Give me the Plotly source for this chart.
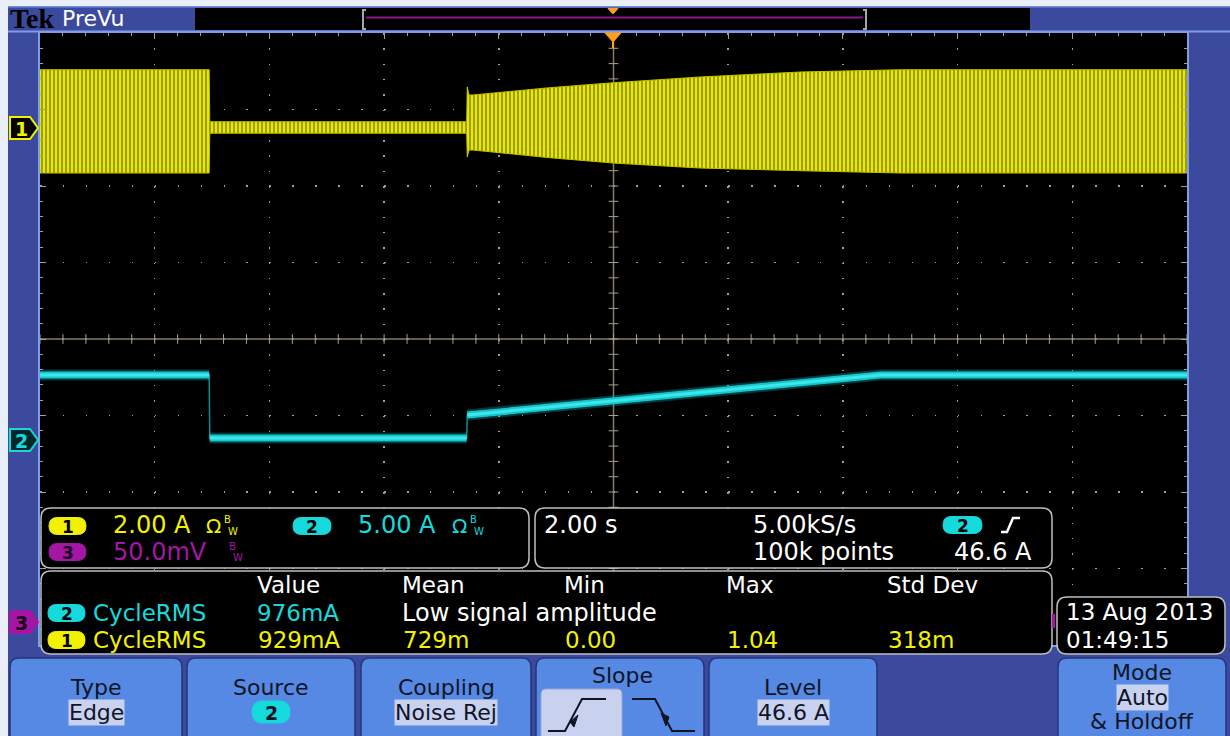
import numpy as np
import plotly.graph_objects as go

W, H = 1230, 736
PL, PR, PT, PB = 40, 1187, 33, 645   # graticule (plot area) in pixels

# ------------------------------------------------------------------ data
time_per_div_s = 2.0
ch1_scale_A = 2.0          # A/div
ch1_offset_div = 2.76      # ground marker position (div)
ch2_scale_A = 5.0
ch2_offset_div = -1.32

# channel 1: envelope of the noisy current band (A) vs time (s)
ch1_time = [-10.0, -7.05, -7.04, -2.56, -2.55, -2.52, -2.45, -1.11, 0.0, 1.51, 3.25, 5.0, 10.0]
ch1_upper_A = [1.52, 1.52, 0.16, 0.16, 1.07, 0.86, 0.86, 1.05, 1.18, 1.33, 1.46, 1.52, 1.52]
ch1_lower_A = [-1.18, -1.18, -0.14, -0.14, -0.76, -0.58, -0.58, -0.78, -0.92, -1.05, -1.12, -1.18, -1.18]

# channel 2: level (A) vs time (s)
ch2_time = [-10.0, -7.05, -7.04, -2.56, -2.55, 0.0, 4.65, 10.0]
ch2_level_A = [4.25, 4.25, 0.13, 0.13, 1.63, 2.55, 4.25, 4.25]

ch_scale_labels = ["2.00 A", "5.00 A", "50.0mV"]
horiz_labels = ["2.00 s", "5.00kS/s", "100k points", "46.6 A"]
meas_headers = ["Value", "Mean", "Min", "Max", "Std Dev"]
meas_ch2 = ["CycleRMS", "976mA", "Low signal amplitude"]
meas_ch1 = ["CycleRMS", "929mA", "729m", "0.00", "1.04", "318m"]
date_labels = ["13 Aug 2013", "01:49:15"]
button_titles = ["Type", "Source", "Coupling", "Slope", "Level", "Mode"]
button_values = ["Edge", "2", "Noise Rej", "", "46.6 A", "Auto"]

# ------------------------------------------------------------------ colours
FRAME = "#3b4a9c"
LIGHT = "#e9eef8"
BTN = "#5589e3"
BTN_LINE = "#27357a"
HILITE = "#c8d1ee"
YEL = "#f2f200"
CYAN = "#16d9dc"
MAG = "#a516a5"
GRID = "#a89f86"
CENTER = "#857c66"
BOXLINE = "#bfbfbf"
FONT = "DejaVu Sans"

def P(x, y):
    return (x - PL) / (PR - PL), (PB - y) / (PB - PT)

def pt(x, y):
    a, b = P(x, y)
    return f"{a:.5f},{b:.5f}"

def rrect_path(x0, y0, x1, y1, r):
    return ("M" + pt(x0 + r, y0) + " L" + pt(x1 - r, y0) + " Q" + pt(x1, y0) + " " + pt(x1, y0 + r)
            + " L" + pt(x1, y1 - r) + " Q" + pt(x1, y1) + " " + pt(x1 - r, y1)
            + " L" + pt(x0 + r, y1) + " Q" + pt(x0, y1) + " " + pt(x0, y1 - r)
            + " L" + pt(x0, y0 + r) + " Q" + pt(x0, y0) + " " + pt(x0 + r, y0) + " Z")

def poly_path(points, close=True):
    s = "M" + " L".join(pt(x, y) for x, y in points)
    return s + (" Z" if close else "")

shapes = []
annotations = []

def rect(x0, y0, x1, y1, fill, line=None, lw=0):
    a0, b0 = P(x0, y0)
    a1, b1 = P(x1, y1)
    shapes.append(dict(type="rect", xref="paper", yref="paper", x0=a0, y0=b0, x1=a1, y1=b1,
                       fillcolor=fill, line=dict(color=line or fill, width=lw), layer="above"))

def rrect(x0, y0, x1, y1, r, fill, line=None, lw=1.5):
    shapes.append(dict(type="path", xref="paper", yref="paper", path=rrect_path(x0, y0, x1, y1, r),
                       fillcolor=fill, line=dict(color=line or fill, width=lw), layer="above"))

def poly(points, fill=None, line=None, lw=2, close=True):
    shapes.append(dict(type="path", xref="paper", yref="paper", path=poly_path(points, close),
                       fillcolor=fill if fill else "rgba(0,0,0,0)",
                       line=dict(color=line or "rgba(0,0,0,0)", width=lw), layer="above"))

def txt(x, y, s, color, size=23, xanchor="left", bg=None, family=FONT):
    a, b = P(x, y)
    d = dict(x=a, y=b, xref="paper", yref="paper", text=s, showarrow=False, xanchor=xanchor,
             yanchor="middle", font=dict(family=family, size=size, color=color), borderpad=0)
    if bg:
        d["bgcolor"] = bg
    annotations.append(d)

# ------------------------------------------------------------------ frame / header
rect(0, 0, W, 6, LIGHT)
rect(0, 0, 8, H, LIGHT)
rect(8, 6, W, 7.5, "#6f8ee0")
rect(8, 30.5, W, 32.5, "#7f9de6")
rect(195, 8, 1030, 30, "#000000")
poly([(366, 10), (363, 10), (363, 29), (366, 29)], line="#a6a6a6", lw=2, close=False)
poly([(863, 10), (866, 10), (866, 29), (863, 29)], line="#a6a6a6", lw=2, close=False)
poly([(366, 17.5), (863, 17.5)], line="#8d168d", lw=2, close=False)
poly([(608, 8.5), (618, 8.5), (613, 14)], fill="#ff9f1c", line="#ff9f1c", lw=1)
txt(9, 18, "<b>Tek</b>", "#000000", size=28, family="Liberation Serif")
txt(61, 18, "PreVu", "#ffffff", size=22)

# trigger position marker
poly([(605, 33), (621, 33), (613, 42)], fill="#ff9f1c", line="#ff9f1c", lw=1)
poly([(613, 42), (613, 48)], line="#ff9f1c", lw=2, close=False)

# channel ground markers on the left frame
def marker(cy, border, fill, tcolor, label):
    poly([(10, cy - 11), (30, cy - 11), (38, cy), (30, cy + 11), (10, cy + 11)], fill=fill, line=border, lw=2)
    txt(21, cy + 1, "<b>" + label + "</b>", tcolor, size=19, xanchor="center")

marker(128, YEL, "#050505", YEL, "1")
marker(440, CYAN, "#03262b", CYAN, "2")
marker(622, MAG, MAG, "#1a001a", "3")

# ------------------------------------------------------------------ readout boxes
rrect(41, 508, 529, 568, 10, "#000000", BOXLINE, 1.5)
rrect(535, 508, 1052, 568, 10, "#000000", BOXLINE, 1.5)
rrect(41, 571, 1052, 654, 10, "#000000", BOXLINE, 1.5)
rrect(1057, 597, 1225, 654, 10, "#000000", BOXLINE, 1.5)
rect(1052, 614, 1055, 628, MAG)

def pill(x0, x1, cy, fill, label, tcolor="#000000", h=17):
    rrect(x0, cy - h / 2, x1, cy + h / 2, h / 2, fill, fill, 1)
    txt((x0 + x1) / 2, cy + 1, "<b>" + label + "</b>", tcolor, size=17, xanchor="center")

# channel box
pill(49, 86, 526, YEL, "1")
txt(112, 525, ch_scale_labels[0], YEL, size=24)
txt(205, 526, "Ω", YEL, size=20)
txt(223, 519, "B", YEL, size=10)
txt(227, 531, "W", YEL, size=10)
pill(293, 331, 526, CYAN, "2")
txt(357, 525, ch_scale_labels[1], CYAN, size=24)
txt(451, 526, "Ω", CYAN, size=20)
txt(469, 519, "B", CYAN, size=10)
txt(473, 531, "W", CYAN, size=10)
pill(49, 86, 552, MAG, "3", "#1a001a")
txt(112, 552, ch_scale_labels[2], MAG, size=24)
txt(228, 546, "B", MAG, size=10)
txt(232, 557, "W", MAG, size=10)

# horizontal / trigger box
txt(543, 525, horiz_labels[0], "#ffffff", size=24)
txt(752, 525, horiz_labels[1], "#ffffff", size=24)
pill(943, 982, 525, CYAN, "2")
poly([(1001, 532), (1007, 532), (1013, 518), (1020, 518)], line="#ffffff", lw=2.5, close=False)
txt(752, 552, horiz_labels[2], "#ffffff", size=24)
txt(953, 552, horiz_labels[3], "#ffffff", size=24)

# measurement box
hx = [256, 401, 563, 725, 886]
for x, s in zip(hx, meas_headers):
    txt(x, 585, s, "#ffffff")
pill(48, 85, 613, CYAN, "2")
txt(92, 613, meas_ch2[0], CYAN)
txt(256, 613, meas_ch2[1], CYAN)
txt(401, 613, meas_ch2[2], "#ffffff", size=24)
pill(48, 85, 640, YEL, "1")
txt(92, 640, meas_ch1[0], YEL)
for x, s in zip(hx, meas_ch1[1:]):
    txt(x + 1, 640, s, YEL)

# date box
txt(1065, 612, date_labels[0], "#ffffff")
txt(1065, 640, date_labels[1], "#ffffff")

# ------------------------------------------------------------------ buttons
btn_x = [(10, 182), (187, 355), (361, 531), (536, 704), (709, 877), (1058, 1226)]
for (x0, x1) in btn_x:
    rrect(x0, 658, x1, 748, 9, BTN, BTN_LINE, 1.5)
dark = "#101426"
for i, ((x0, x1), t, v) in enumerate(zip(btn_x, button_titles, button_values)):
    cx = (x0 + x1) / 2
    if t == "Slope":
        txt(cx + 3, 675, t, dark, size=22, xanchor="center")
    elif t == "Mode":
        txt(cx, 672, t, dark, size=22, xanchor="center")
        txt(cx, 697, v, dark, size=22, xanchor="center", bg=HILITE)
        txt(cx, 721, "&amp; Holdoff", dark, size=22, xanchor="center")
    elif t == "Source":
        txt(cx, 687, t, dark, size=22, xanchor="center")
        rrect(cx - 19, 701, cx + 19, 723, 11, CYAN, CYAN, 1)
        txt(cx, 713, "<b>" + v + "</b>", dark, size=19, xanchor="center")
    else:
        txt(cx, 687, t, dark, size=22, xanchor="center")
        txt(cx, 712, v, dark, size=22, xanchor="center", bg=HILITE)

# slope sub-buttons
rrect(541, 689, 622, 745, 5, HILITE, "#9aa6d6", 1)
poly([(548, 731), (565, 731), (582, 699), (606, 699)], line=dark, lw=2, close=False)
poly([(570, 722), (578, 715), (574, 727)], fill=dark, line=dark, lw=1)
poly([(632, 699), (655, 699), (672, 731), (695, 731)], line=dark, lw=2, close=False)
poly([(661, 713), (669, 717), (666, 726)], fill=dark, line=dark, lw=1)

# ------------------------------------------------------------------ traces
fig = go.Figure()

tick_x = np.arange(-10, 10.0001, 0.4)
tick_y = np.arange(-4, 4.0001, 0.2)
fig.add_trace(go.Scatter(x=tick_x, y=np.zeros_like(tick_x), mode="markers",
                         marker=dict(symbol="line-ns", size=7, line=dict(color=GRID, width=1)),
                         hoverinfo="skip", showlegend=False))
fig.add_trace(go.Scatter(x=np.zeros_like(tick_y), y=tick_y, mode="markers",
                         marker=dict(symbol="line-ew", size=7, line=dict(color=GRID, width=1)),
                         hoverinfo="skip", showlegend=False))

up1 = np.array(ch1_upper_A) / ch1_scale_A + ch1_offset_div
lo1 = np.array(ch1_lower_A) / ch1_scale_A + ch1_offset_div
fig.add_trace(go.Scatter(x=ch1_time, y=up1, mode="lines", line=dict(color="#c0c000", width=1),
                         hoverinfo="skip", showlegend=False))
fig.add_trace(go.Scatter(x=ch1_time, y=lo1, mode="lines", line=dict(color="#c0c000", width=1),
                         fill="tonexty", fillcolor="#eaea00",
                         fillpattern=dict(shape="|", fgcolor="#4a4a00", size=4, solidity=0.32, fgopacity=0.75),
                         hoverinfo="skip", showlegend=False))

# channel 2: thick trace broken at the vertical steps, thin dim line for the steps
t2 = np.array(ch2_time)
y2 = np.array(ch2_level_A) / ch2_scale_A + ch2_offset_div
xs, ys = [t2[0]], [y2[0]]
for i in range(1, len(t2)):
    if t2[i] - t2[i - 1] < 0.05:
        xs.append(None)
        ys.append(None)
    xs.append(t2[i])
    ys.append(y2[i])
fig.add_trace(go.Scatter(x=t2, y=y2, mode="lines", line=dict(color="#0d8d92", width=1.5),
                         hoverinfo="skip", showlegend=False))
fig.add_trace(go.Scatter(x=xs, y=ys, mode="lines", line=dict(color="rgba(0,190,200,0.3)", width=11),
                         connectgaps=False, hoverinfo="skip", showlegend=False))
fig.add_trace(go.Scatter(x=xs, y=ys, mode="lines", line=dict(color="#12c8cd", width=7),
                         connectgaps=False, hoverinfo="skip", showlegend=False))
fig.add_trace(go.Scatter(x=xs, y=ys, mode="lines", line=dict(color="#3ee6ea", width=3),
                         connectgaps=False, hoverinfo="skip", showlegend=False))

# centre lines of the graticule
shapes.insert(0, dict(type="line", xref="x", yref="y", x0=-10, x1=10, y0=0, y1=0,
                      line=dict(color=CENTER, width=1.5), layer="between"))
shapes.insert(0, dict(type="line", xref="x", yref="y", x0=0, x1=0, y0=-4, y1=4,
                      line=dict(color=CENTER, width=1.5), layer="between"))

fig.update_layout(
    width=W, height=H, autosize=False,
    margin=dict(l=PL, r=W - PR, t=PT, b=H - PB, pad=0),
    paper_bgcolor=FRAME, plot_bgcolor="#000000",
    shapes=shapes, annotations=annotations, showlegend=False,
    xaxis=dict(range=[-10, 10], tick0=0, dtick=2, showticklabels=False, zeroline=False,
               showgrid=True, gridcolor=GRID, gridwidth=1.5, griddash="1.5px,13.8px",
               ticks="inside", ticklen=6, tickcolor=GRID, tickwidth=1,
               minor=dict(dtick=0.4, ticks="inside", ticklen=3, tickcolor=GRID, showgrid=False),
               showline=True, linecolor="#7f9de6", linewidth=2, mirror="allticks", fixedrange=True),
    yaxis=dict(range=[-4, 4], tick0=0, dtick=1, showticklabels=False, zeroline=False,
               showgrid=True, gridcolor=GRID, gridwidth=1.5, griddash="1.5px,21.44px",
               ticks="inside", ticklen=6, tickcolor=GRID, tickwidth=1,
               minor=dict(dtick=0.2, ticks="inside", ticklen=3, tickcolor=GRID, showgrid=False),
               showline=True, linecolor="#7f9de6", linewidth=2, mirror="allticks", fixedrange=True),
)

fig.write_html("out.html", config={"displayModeBar": False, "staticPlot": True},
               post_script="document.body.style.margin='0px';document.body.style.overflow='hidden';")
